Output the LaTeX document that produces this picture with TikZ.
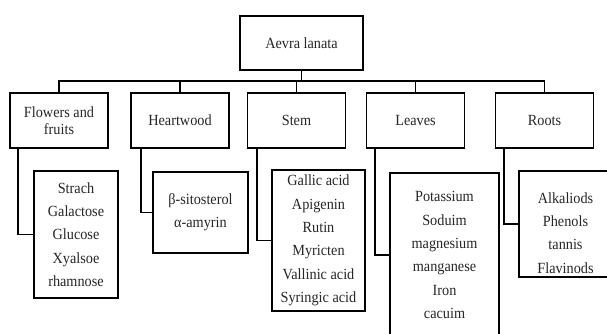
\documentclass[tikz,border=0pt]{standalone}
\usepackage{fontspec}
\setmainfont[FakeStretch=0.92]{Liberation Serif}
\usetikzlibrary{calc}
\begin{document}
\begin{tikzpicture}[x=1pt,y=-1pt,
  box/.style={draw=black, line width=1.8pt, fill=white, inner sep=0pt, align=center,
    font=\fontsize{15.5}{17}\selectfont, text=black!85},
  listbox/.style={box, font=\fontsize{15.5}{23.3}\selectfont},
  txt/.style={inner sep=0pt, align=center, font=\fontsize{15.5}{23.3}\selectfont, text=black!85},
  link/.style={draw=black, line width=1.8pt}]
\useasboundingbox (0,0) rectangle (607,334);
% top
\node[box, minimum width=123pt, minimum height=54pt] (root) at (301.5,43) {Aevra lanata};
\coordinate (bus) at (301.5,81);
% categories
\node[box, minimum width=98pt, minimum height=55pt] (fl) at (59,120.5) {Flowers and\\fruits};
\node[box, minimum width=98pt, minimum height=55pt] (hw) at (180,120.5) {Heartwood};
\node[box, minimum width=98pt, minimum height=55pt] (st) at (296.5,120.5) {Stem};
\node[box, minimum width=98pt, minimum height=55pt] (lv) at (415.5,120.5) {Leaves};
\node[box, minimum width=98pt, minimum height=55pt] (rt) at (544.5,120.5) {Roots};
% connectors to top
\draw[link] (root.south) -- (bus);
\foreach \n in {fl,hw,st,lv,rt} {\draw[link] (\n.north) |- (bus);}
% lists
\node[listbox, minimum width=84pt, minimum height=127pt] (flc) at (76,234.5) {Strach\\Galactose\\Glucose\\Xyalsoe\\rhamnose};
\node[listbox, minimum width=95pt, minimum height=81pt] (hwc) at (200.5,212.5) {β-sitosterol\\α-amyrin};
\node[listbox, minimum width=93pt, minimum height=141pt] (stc) at (318.5,240.5) {Gallic acid\\Apigenin\\Rutin\\Myricten\\Vallinic acid\\Syringic acid};
\node[listbox, minimum width=109pt, minimum height=164pt] (lvc) at (444.5,255) {Potassium\\Soduim\\magnesium\\manganese\\Iron\\cacuim};
\node[listbox, minimum width=93pt, minimum height=106pt] (rtc) at (565.5,224) {};
\node[txt] (rtct) at (565.5,233) {Alkaliods\\Phenols\\tannis\\Flavinods};
% connectors to lists
\draw[link] ($(fl.south west)+(9,0)$) |- (flc.west);
\draw[link] ($(hw.south west)+(11,0)$) |- (hwc.west);
\draw[link] ($(st.south west)+(10,0)$) |- (stc.west);
\draw[link] ($(lv.south west)+(9,0)$) |- (lvc.west);
\draw[link] ($(rt.south west)+(9,0)$) |- (rtc.west);
\end{tikzpicture}
\end{document}
